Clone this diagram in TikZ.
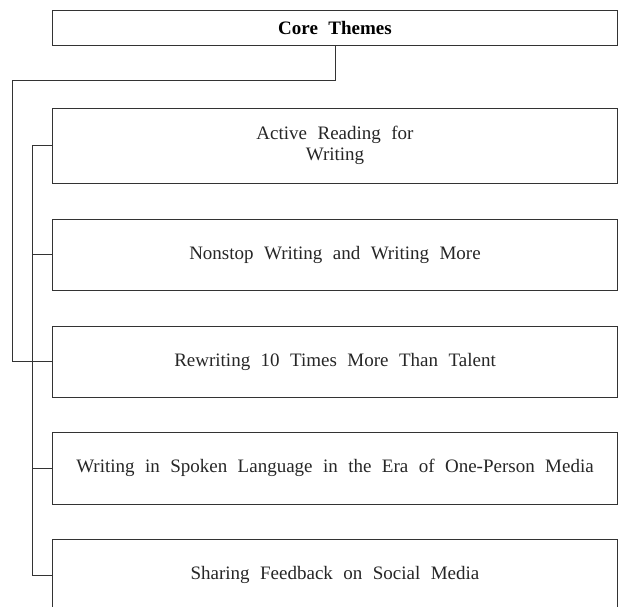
\documentclass[tikz,border=0pt]{standalone}
\usepackage{fontspec}
\setmainfont{Liberation Serif}[WordSpace=2.2]
\usepackage{tikz}
\usetikzlibrary{arrows,positioning,calc}

\tikzset{
  themebox/.style={draw=black!80, line width=0.8pt, minimum width=565pt, inner sep=0pt,
    align=center, text=black!85, font=\fontsize{19}{21}\selectfont},
  linkline/.style={draw=black!80, line width=0.8pt}
}

\begin{document}
\begin{tikzpicture}[x=1pt,y=-1pt]
% =============================================
% - frame.
\clip (0,0) rectangle (619,606);
\useasboundingbox (0,0) rectangle (619,606);
% Core
\node[themebox, minimum height=35pt, text=black, font=\bfseries\fontsize{19}{21}\selectfont] (core) at (335,27.5) {Core Themes};
%
% - theme boxes.
\node[themebox, minimum height=75pt] (r1) at (335,145.5) {Active Reading for\\ Writing};
\node[themebox, minimum height=71pt] (r2) at (335,254.5) {Nonstop Writing and Writing More};
\node[themebox, minimum height=71pt] (r3) at (335,361.5) {Rewriting 10 Times More Than Talent};
\node[themebox, minimum height=72pt] (r4) at (335,468) {Writing in Spoken Language in the Era of One-Person Media};
\node[themebox, minimum height=72pt] (r5) at (335,575) {Sharing Feedback on Social Media};
%
% - links.
\coordinate (turn) at (12,80);
\coordinate (spine) at (32,0);
\draw[linkline] (core.south) |- (turn) |- (r3.west);%Outer.
\draw[linkline] (r1.west) -- (spine |- r1.west) -- (spine |- r5.west) -- (r5.west);%Spine.
\draw[linkline] (r2.west) -- (spine |- r2.west);
\draw[linkline] (r4.west) -- (spine |- r4.west);
% =============================================
\end{tikzpicture}
\end{document}
